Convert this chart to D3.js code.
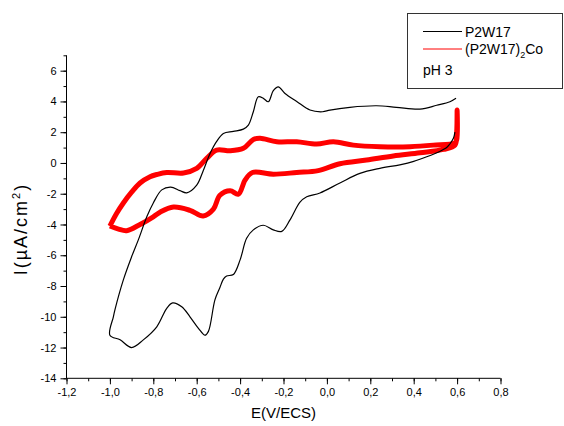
<!DOCTYPE html>
<html>
<head>
<meta charset="utf-8">
<script src="https://cdn.jsdelivr.net/npm/d3@7/dist/d3.min.js"></script>
<style>
  html, body { margin: 0; padding: 0; background: #fff; }
  svg { display: block; font-family: "Liberation Sans", Arial, sans-serif; }
</style>
</head>
<body>
<svg id="chart" width="564" height="426"></svg>
<script>
// ---- data (E in V/ECS, I in µA/cm²) ----
const xTicks = [-1.2, -1.0, -0.8, -0.6, -0.4, -0.2, 0.0, 0.2, 0.4, 0.6, 0.8];
const yTicks = [-14, -12, -10, -8, -6, -4, -2, 0, 2, 4, 6];
const seriesNames = ["P2W17", "(P2W17)2Co"];
const legendNote = "pH 3";

// P2W17 (black): cathodic branch from 0.6 V down to -1.0 V, then anodic branch back to 0.6 V
const p2w17 = [
  [0.59, 2.0], [0.583, 1.6], [0.565, 1.2], [0.552, 1.0], [0.52, 0.75], [0.46, 0.4],
  [0.40, 0.1], [0.336, -0.12], [0.244, -0.35], [0.152, -0.68], [0.06, -1.3],
  [-0.032, -1.95], [-0.093, -2.2], [-0.124, -2.55], [-0.17, -3.7], [-0.208, -4.45],
  [-0.247, -4.35], [-0.293, -4.05], [-0.339, -4.35], [-0.37, -4.9], [-0.40, -6.3],
  [-0.431, -7.25], [-0.462, -7.35], [-0.477, -7.55], [-0.493, -8.1], [-0.516, -8.9],
  [-0.546, -10.95], [-0.562, -11.2], [-0.592, -10.75], [-0.631, -10.0], [-0.669, -9.35],
  [-0.711, -9.1], [-0.738, -9.45], [-0.784, -10.65], [-0.846, -11.5], [-0.90, -12.0],
  [-0.953, -11.5], [-1.0, -11.2],
  [-0.984, -10.0], [-0.976, -9.5], [-0.938, -7.6], [-0.90, -6.1], [-0.869, -5.0],
  [-0.83, -3.5], [-0.80, -2.6], [-0.761, -1.75], [-0.72, -1.57], [-0.677, -1.8],
  [-0.646, -1.94], [-0.60, -1.44], [-0.57, -0.5], [-0.539, 0.6], [-0.508, 1.4],
  [-0.477, 1.92], [-0.431, 2.05], [-0.385, 2.2], [-0.362, 2.46], [-0.339, 3.33],
  [-0.316, 4.3], [-0.293, 4.2], [-0.27, 3.98], [-0.247, 4.7], [-0.224, 4.95],
  [-0.193, 4.52], [-0.139, 4.0], [-0.078, 3.44], [-0.02, 3.33], [0.014, 3.44],
  [0.106, 3.62], [0.229, 3.72], [0.32, 3.62], [0.429, 3.5], [0.506, 3.75],
  [0.567, 3.98], [0.595, 4.2]
];

// (P2W17)2Co (red)
const p2w17Co = [
  [-1.0, -4.1], [-0.96, -4.3], [-0.923, -4.4], [-0.861, -4.0], [-0.80, -3.5],
  [-0.769, -3.2], [-0.707, -2.87], [-0.631, -3.08], [-0.57, -3.45], [-0.523, -3.0],
  [-0.493, -2.1], [-0.446, -1.8], [-0.408, -2.03], [-0.377, -1.11], [-0.343, -0.62],
  [-0.247, -0.73], [-0.139, -0.62], [-0.04, -0.5], [0.06, -0.05], [0.183, 0.19],
  [0.306, 0.45], [0.429, 0.66], [0.537, 0.88], [0.59, 1.16], [0.598, 2.0],
  [0.6, 3.45], [0.598, 1.5], [0.59, 1.31], [0.49, 1.16], [0.383, 1.06],
  [0.245, 1.06], [0.122, 1.16], [0.03, 1.38], [-0.047, 1.23], [-0.139, 1.38],
  [-0.231, 1.38], [-0.308, 1.6], [-0.339, 1.53], [-0.385, 0.95], [-0.446, 0.79],
  [-0.508, 0.84], [-0.554, 0.30], [-0.60, -0.35], [-0.661, -0.65], [-0.738, -0.62],
  [-0.784, -0.75], [-0.815, -0.89], [-0.861, -1.3], [-0.9, -1.9], [-0.938, -2.6],
  [-0.97, -3.3], [-1.0, -4.1]
];

// ---- drawing ----
const svg = d3.select("#chart");
const x = d3.scaleLinear().domain([-1.2, 0.8]).range([66.5, 500.5]);
const y = d3.scaleLinear().domain([-14, 7]).range([378.3, 55.3]);

const fmt = d => d3.format(".1f")(d).replace(".", ",").replace("−", "-");

// minor ticks
const xMinor = d3.range(-1.2, 0.81, 0.1).map(v => +v.toFixed(2));
const yMinor = d3.range(-14, 7.01, 1);

const gx = svg.append("g").attr("transform", `translate(0,${y(-14)})`);
gx.call(d3.axisBottom(x).tickValues(xMinor).tickSize(3).tickFormat(""));
gx.call(g => g.selectAll("path.domain").remove());
const gx2 = svg.append("g").attr("transform", `translate(0,${y(-14)})`)
  .call(d3.axisBottom(x).tickValues(xTicks).tickSize(6).tickPadding(4).tickFormat(fmt));
gx2.select("path.domain").attr("d", `M${x(-1.2)},0H${x(0.8)}`);

const gy = svg.append("g").attr("transform", `translate(${x(-1.2)},0)`);
gy.call(d3.axisLeft(y).tickValues(yMinor).tickSize(3).tickFormat(""));
gy.call(g => g.selectAll("path.domain").remove());
const gy2 = svg.append("g").attr("transform", `translate(${x(-1.2)},0)`)
  .call(d3.axisLeft(y).tickValues(yTicks).tickSize(6).tickPadding(4).tickFormat(d => String(d)));
gy2.select("path.domain").attr("d", `M0,${y(7)}V${y(-14)}`);

svg.selectAll(".tick text").attr("font-size", 11).attr("fill", "#000")
  .attr("font-family", "'Liberation Sans', Arial, sans-serif");
svg.selectAll(".tick line, path.domain").attr("stroke", "#000");

// axis titles
svg.append("text").attr("x", x(-0.2)).attr("y", 418).attr("text-anchor", "middle")
  .attr("font-size", 15).text("E(V/ECS)");
const yt = svg.append("text").attr("transform", `translate(27,229) rotate(-90)`)
  .attr("text-anchor", "middle").attr("font-size", 18).attr("letter-spacing", 2);
yt.append("tspan").text("I(µA/cm");
yt.append("tspan").attr("font-size", 11).attr("dy", -7).text("2");
yt.append("tspan").attr("dy", 7).text(")");

// curves
const line = d3.line().x(d => x(d[0])).y(d => y(d[1])).curve(d3.curveCatmullRom.alpha(0.5));
svg.append("path").datum(p2w17Co).attr("d", line).attr("fill", "none")
  .attr("stroke", "#ff0000").attr("stroke-width", 5).attr("stroke-linejoin", "round");
svg.append("path").datum(p2w17).attr("d", line).attr("fill", "none")
  .attr("stroke", "#000").attr("stroke-width", 1.2).attr("stroke-linejoin", "round");

// legend
const lg = svg.append("g");
lg.append("rect").attr("x", 407.5).attr("y", 13.5).attr("width", 155).attr("height", 75)
  .attr("fill", "#fff").attr("stroke", "#333").attr("stroke-width", 1);
lg.append("line").attr("x1", 423).attr("x2", 462).attr("y1", 31.5).attr("y2", 31.5)
  .attr("stroke", "#000").attr("stroke-width", 1);
lg.append("line").attr("x1", 423).attr("x2", 462).attr("y1", 49).attr("y2", 49)
  .attr("stroke", "#ff0000").attr("stroke-width", 1);
lg.append("text").attr("x", 465).attr("y", 37).attr("font-size", 14).text(seriesNames[0]);
const t2 = lg.append("text").attr("x", 465).attr("y", 54).attr("font-size", 14);
t2.append("tspan").text("(P2W17)");
t2.append("tspan").attr("font-size", 9).attr("dy", 4).text("2");
t2.append("tspan").attr("dy", -4).text("Co");
lg.append("text").attr("x", 423).attr("y", 75).attr("font-size", 14).text(legendNote);
</script>
</body>
</html>
